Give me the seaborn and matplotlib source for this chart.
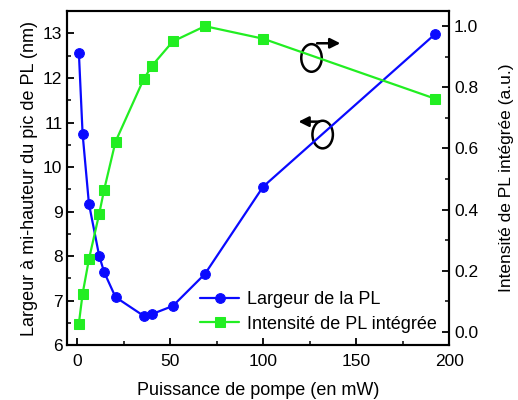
import matplotlib
matplotlib.use("Agg")
import matplotlib.pyplot as plt
from matplotlib.patches import Ellipse
from matplotlib.ticker import MultipleLocator
import seaborn as sns
import pandas as pd

power = [0.9, 2.9, 6.3, 11.8, 14.5, 20.6, 35.7, 40.3, 51.4, 68.7, 100, 192.3]
fwhm = [12.57, 10.75, 9.18, 8.01, 7.64, 7.08, 6.66, 6.70, 6.88, 7.60, 9.56, 12.98]
intensity = [0.027, 0.124, 0.237, 0.385, 0.465, 0.622, 0.826, 0.871, 0.950, 1.0, 0.959, 0.763]

xlabel = "Puissance de pompe (en mW)"
ylabel_left = "Largeur à mi-hauteur du pic de PL (nm)"
ylabel_right = "Intensité de PL intégrée (a.u.)"
label_fwhm = "Largeur de la PL"
label_int = "Intensité de PL intégrée"

blue = "#0a0aff"
green = "#22ee22"

sns.set_theme(style="ticks")
plt.rcParams['font.family'] = ['Liberation Sans', 'DejaVu Sans']
plt.rcParams['text.color'] = 'black'
plt.rcParams['axes.labelcolor'] = 'black'

df = pd.DataFrame({"power": power, "fwhm": fwhm, "intensity": intensity})

fig = plt.figure(figsize=(5.18, 4.0), dpi=100)
ax = fig.add_axes([0.130, 0.137, 0.737, 0.835])
ax2 = ax.twinx()

sns.lineplot(data=df, x="power", y="fwhm", ax=ax, color=blue, marker="o",
             markersize=7, markeredgecolor=blue, linewidth=1.6, label=label_fwhm, legend=False)
sns.lineplot(data=df, x="power", y="intensity", ax=ax2, color=green, marker="s",
             markersize=6.5, markeredgecolor=green, linewidth=1.6, label=label_int, legend=False)

ax.set_xlim(-5.3, 200)
ax.set_ylim(6, 13.5)
ax2.set_ylim(-0.044, 1.049)

ax.xaxis.set_major_locator(MultipleLocator(50))
ax.xaxis.set_minor_locator(MultipleLocator(25))
ax.yaxis.set_major_locator(MultipleLocator(1))
ax.yaxis.set_minor_locator(MultipleLocator(0.5))
ax2.yaxis.set_major_locator(MultipleLocator(0.2))
ax2.yaxis.set_minor_locator(MultipleLocator(0.1))
ax2.set_yticks([0, 0.2, 0.4, 0.6, 0.8, 1.0])
ax2.set_yticklabels(["0.0", "0.2", "0.4", "0.6", "0.8", "1.0"])

for a in (ax, ax2):
    for s in a.spines.values():
        s.set_linewidth(1.5)
        s.set_color("black")
ax.tick_params(axis="both", which="major", direction="in", length=5, width=1.3,
               labelsize=12.5, colors="black", right=False, top=False)
ax.tick_params(axis="both", which="minor", direction="in", length=3, width=1.1,
               colors="black", right=False, top=False)
ax.tick_params(axis="x", pad=6)
ax2.tick_params(axis="y", which="major", direction="in", length=5, width=1.3,
                labelsize=12.5, colors="black")
ax2.tick_params(axis="y", which="minor", direction="in", length=3, width=1.1, colors="black")

ax.set_xlabel(xlabel, fontsize=13, labelpad=10)
ax.set_ylabel(ylabel_left, fontsize=13, labelpad=4)
ax2.set_ylabel(ylabel_right, fontsize=12.5, labelpad=15)

h1, l1 = ax.get_legend_handles_labels()
h2, l2 = ax2.get_legend_handles_labels()
ax2.legend(h1 + h2, l1 + l2, loc="lower right", frameon=False, fontsize=13,
           handlelength=2.2, handletextpad=0.4, borderaxespad=0.3, labelspacing=0.4)

# annotation circles with arrows (indicating axes)
ax.add_patch(Ellipse((126.0, 12.45), 11.0, 0.62, fill=False, lw=1.8, color="black"))
ax.annotate("", xy=(143.0, 12.78), xytext=(127.5, 12.78),
            arrowprops=dict(arrowstyle="-|>", color="black", lw=1.8, mutation_scale=15))
ax.add_patch(Ellipse((132.0, 10.73), 11.0, 0.62, fill=False, lw=1.8, color="black"))
ax.annotate("", xy=(117.5, 11.02), xytext=(131.5, 11.02),
            arrowprops=dict(arrowstyle="-|>", color="black", lw=1.8, mutation_scale=15))

fig.savefig("out.png", dpi=100)
